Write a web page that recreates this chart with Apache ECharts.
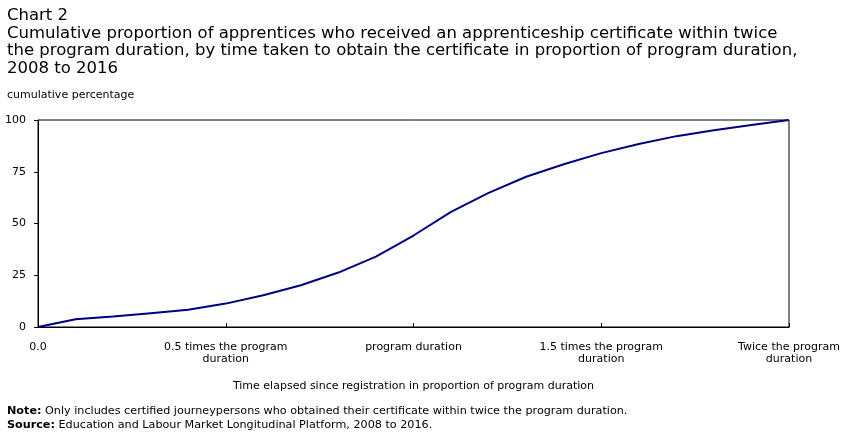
<!DOCTYPE html>
<html>
<head>
<meta charset="utf-8">
<script src="https://cdn.jsdelivr.net/npm/echarts@6/dist/echarts.min.js"></script>
<style>
  html, body { margin: 0; padding: 0; background: #fff; }
  #chart { width: 851px; height: 435px; }
</style>
</head>
<body>
<div id="chart"></div>
<script>
// data
var durationShare = [0, 0.1, 0.2, 0.3, 0.4, 0.5, 0.6, 0.7, 0.8, 0.9, 1.0,
                     1.1, 1.2, 1.3, 1.4, 1.5, 1.6, 1.7, 1.8, 1.9, 2.0];
var cumulativePct = [0, 3.7, 5.1, 6.7, 8.3, 11.3, 15.3, 20.2, 26.3, 34, 44.2,
                     55.6, 64.8, 72.6, 78.6, 84, 88.4, 92.2, 95.1, 97.6, 100];
var xTickLabels = {
  "0": "0.0",
  "0.5": "0.5 times the program\nduration",
  "1": "program duration",
  "1.5": "1.5 times the program\nduration",
  "2": "Twice the program\nduration"
};

var font = "Verdana, 'DejaVu Sans', sans-serif";

(function(){
  var myChart = echarts.init(document.getElementById("chart"));

  var points = durationShare.map(function(x, i){
    return [x, cumulativePct[i]];
  });

  var option = {
    animation: false,
    title: {
      text: "Chart 2\nCumulative proportion of apprentices who received an apprenticeship certificate within twice\nthe program duration, by time taken to obtain the certificate in proportion of program duration,\n2008 to 2016",
      left: 2,
      top: 2,
      textStyle: {
        fontFamily: font,
        fontSize: 16.5,
        fontWeight: "normal",
        color: "#000",
        lineHeight: 17.5
      }
    },
    graphic: [
      {
        type: "text",
        left: 7,
        top: 90,
        style: { text: "cumulative percentage", font: "11px " + font, fill: "#000" }
      },
      {
        type: "text",
        left: 7,
        top: 404,
        style: {
          text: "{b|Note:} Only includes certified journeypersons who obtained their certificate within twice the program duration.\n{b|Source:} Education and Labour Market Longitudinal Platform, 2008 to 2016.",
          fill: "#000",
          font: "11.2px " + font,
          lineHeight: 14,
          rich: {
            b: { fontWeight: "bold", fontFamily: font, fontSize: 11.2 }
          }
        }
      }
    ],
    grid: {
      left: 38,
      right: 62,
      top: 120,
      bottom: 108,
      show: true,
      borderColor: "#000",
      borderWidth: 1
    },
    xAxis: {
      type: "value",
      min: 0,
      max: 2,
      interval: 0.5,
      name: "Time elapsed since registration in proportion of program duration",
      nameLocation: "middle",
      nameGap: 54,
      nameTextStyle: { fontFamily: font, fontSize: 11, color: "#000" },
      axisLine: { lineStyle: { color: "#000", width: 1 } },
      axisTick: { inside: true, length: 4, lineStyle: { color: "#000" } },
      splitLine: { show: false },
      axisLabel: {
        fontFamily: font,
        fontSize: 11,
        color: "#000",
        margin: 14,
        lineHeight: 12,
        formatter: function(v){
          return xTickLabels[String(v)] || "";
        }
      }
    },
    yAxis: {
      type: "value",
      min: 0,
      max: 100,
      interval: 25,
      axisLine: { show: true, lineStyle: { color: "#000", width: 1 } },
      axisTick: { show: true, length: 4, lineStyle: { color: "#000" } },
      splitLine: { show: false },
      axisLabel: {
        fontFamily: font,
        fontSize: 11,
        color: "#000",
        margin: 12
      }
    },
    series: [
      {
        name: "cumulative percentage",
        type: "line",
        data: points,
        showSymbol: false,
        lineStyle: { color: "#000080", width: 2 },
        itemStyle: { color: "#000080" }
      }
    ]
  };

  myChart.setOption(option);

  window.addEventListener("resize", function(){
    myChart.resize();
  });
})();
</script>
</body>
</html>
